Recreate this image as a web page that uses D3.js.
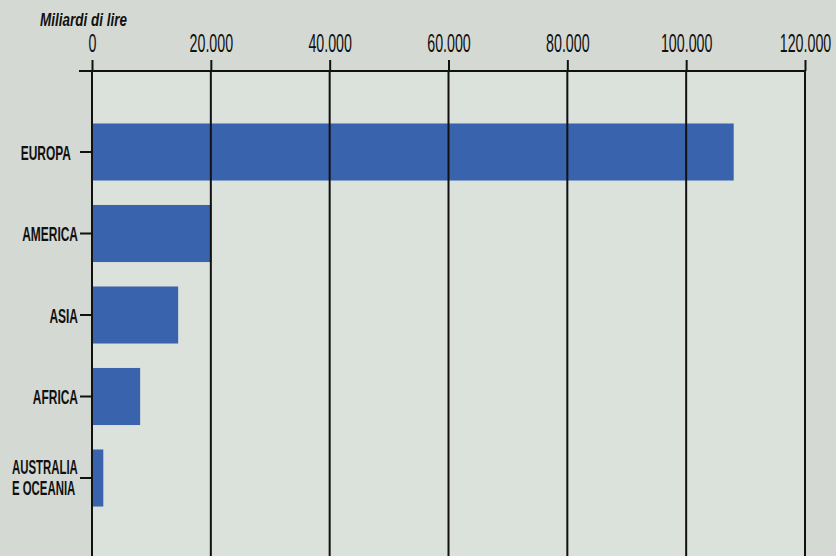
<!DOCTYPE html>
<html>
<head>
<meta charset="utf-8">
<script src="https://cdn.jsdelivr.net/npm/d3@7"></script>
<style>
  body { margin: 0; background: #d4dad3; }
  svg { display: block; }
  text { font-family: "Liberation Sans", Arial, sans-serif; fill: #111; }
</style>
</head>
<body>
<svg id="chart" width="836" height="556"></svg>
<script>
'use strict'

// data (miliardi di lire)
var regions = ['EUROPA', 'AMERICA', 'ASIA', 'AFRICA', 'AUSTRALIA\nE OCEANIA'];
var values = [108000, 20100, 14500, 8100, 1900];
var tickValues = [0, 20000, 40000, 60000, 80000, 100000, 120000];
var tickLabels = ['0', '20.000', '40.000', '60.000', '80.000', '100.000', '120.000'];

var width = 836, height = 556;
var left = 92, right = 805, axisY = 71;
var squeeze = 0.57; // the original lettering is very condensed

var svg = d3.select('#chart');

var x = d3.scaleLinear()
  .domain([0, 120000])
  .range([left, right]);

var y = d3.scaleBand()
  .domain(regions)
  .range([111.25, 518.75])
  .paddingInner(0.3)
  .paddingOuter(0.15);

// background
svg.append('rect')
  .attr('width', width)
  .attr('height', height)
  .attr('fill', '#d4dad3');

// lighter plot area
svg.append('rect')
  .attr('x', left)
  .attr('y', axisY)
  .attr('width', right - left)
  .attr('height', height - axisY)
  .attr('fill', '#dbe1db');

// bars
svg.selectAll('rect.bar')
  .data(regions)
  .enter()
  .append('rect')
  .attr('class', 'bar')
  .attr('x', x(0))
  .attr('y', function(d){ return y(d); })
  .attr('width', function(d, i){ return x(values[i]) - x(0); })
  .attr('height', y.bandwidth())
  .attr('fill', '#3a63ae');

// vertical grid lines
svg.selectAll('line.grid')
  .data(tickValues)
  .enter()
  .append('line')
  .attr('class', 'grid')
  .attr('x1', function(d){ return x(d); })
  .attr('x2', function(d){ return x(d); })
  .attr('y1', axisY)
  .attr('y2', height)
  .attr('stroke', '#111')
  .attr('stroke-width', 2);

// top axis
var xAxis = d3.axisTop(x)
  .tickValues(tickValues)
  .tickFormat(function(d, i){ return tickLabels[i]; })
  .tickSize(11)
  .tickPadding(8);

var gx = svg.append('g')
  .attr('transform', 'translate(0,' + axisY + ')')
  .call(xAxis);
gx.select('.domain').remove();
gx.selectAll('.tick line').attr('stroke', '#111').attr('stroke-width', 2);
gx.selectAll('.tick text')
  .style('font-size', '25px')
  .style('font-family', '"Liberation Sans", Arial, sans-serif')
  .attr('fill', '#111')
  .attr('transform', 'scale(' + squeeze + ',1)');

svg.append('line')
  .attr('x1', 79)
  .attr('x2', right)
  .attr('y1', axisY)
  .attr('y2', axisY)
  .attr('stroke', '#111')
  .attr('stroke-width', 2);

// left category ticks and labels
var cat = svg.selectAll('g.cat')
  .data(regions)
  .enter()
  .append('g')
  .attr('class', 'cat')
  .attr('transform', function(d){
    return 'translate(0,' + (y(d) + y.bandwidth() / 2) + ')';
  });

cat.append('line')
  .attr('x1', 80)
  .attr('x2', left)
  .attr('stroke', '#111')
  .attr('stroke-width', 2);

cat.each(function(d, i){
  var lines = d.split('\n');
  var g = d3.select(this);
  if( lines.length > 1 ){
    lines.forEach(function(line, k){
      g.append('g')
        .attr('transform', 'translate(12,' + (k === 0 ? -4 : 17) + ') scale(' + squeeze + ',1)')
        .append('text')
        .attr('text-anchor', 'start')
        .style('font-size', '20px')
        .style('font-weight', 'bold')
        .text(line);
    });
  }
  else {
    g.append('g')
      .attr('transform', 'translate(' + (i === 0 ? 71 : 78) + ',0) scale(' + squeeze + ',1)')
      .append('text')
      .attr('text-anchor', 'end')
      .attr('dy', '0.36em')
      .style('font-size', '21px')
      .style('font-weight', 'bold')
      .text(d);
  }
});

// unit label
svg.append('g')
  .attr('transform', 'translate(40,26) scale(0.75,1)')
  .append('text')
  .style('font-size', '18px')
  .style('font-weight', 'bold')
  .style('font-style', 'italic')
  .text('Miliardi di lire');
</script>
</body>
</html>
